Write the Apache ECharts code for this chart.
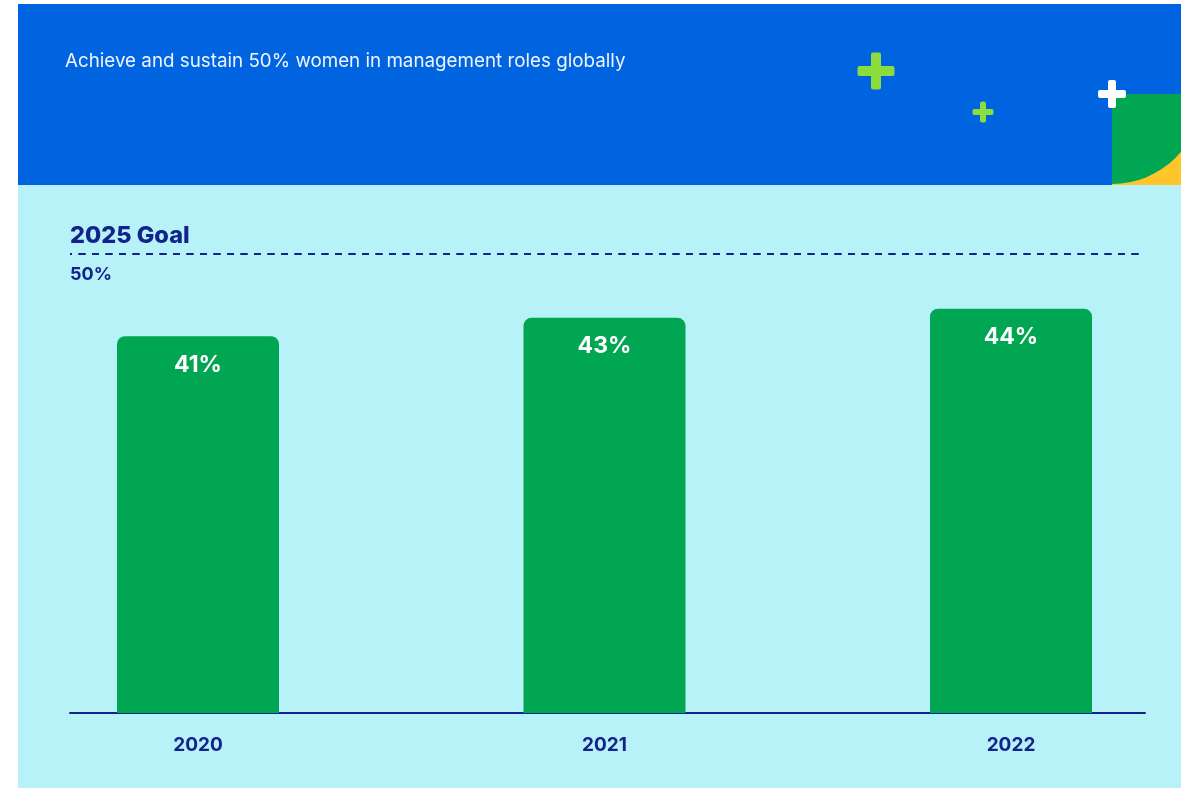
<!DOCTYPE html>
<html>
<head>
<meta charset="utf-8">
<script src="https://cdn.jsdelivr.net/npm/echarts@6/dist/echarts.min.js"></script>
<style>
  html, body { margin: 0; padding: 0; background: #ffffff; }
  #chart { width: 1181px; height: 788px; }
</style>
</head>
<body>
<div id="chart"></div>
<script>
// data
var years = ['2020', '2021', '2022'];
var womenShare = [41, 43, 44];
var goalValue = 50;
var goalTitle = '2025 Goal';
var headline = 'Achieve and sustain 50% women in management roles globally';

var navy = '#13238c';
var barGreen = '#00a651';

var chart = echarts.init(document.getElementById('chart'));

// little plus sign made of two rounded bars
function plus(cx, cy, size, thick, color) {
  return {
    type: 'group',
    z: 5,
    children: [
      { type: 'rect', z: 5, shape: { x: cx - size / 2, y: cy - thick / 2, width: size, height: thick, r: 2 }, style: { fill: color } },
      { type: 'rect', z: 5, shape: { x: cx - thick / 2, y: cy - size / 2, width: thick, height: size, r: 2 }, style: { fill: color } }
    ]
  };
}

var option = {
  animation: false,
  backgroundColor: '#ffffff',
  textStyle: { fontFamily: 'Inter' },
  graphic: [
    // header band + light panel
    { type: 'rect', z: -10, shape: { x: 18, y: 4, width: 1163, height: 181 }, style: { fill: '#0064e1' } },
    { type: 'rect', z: -10, shape: { x: 18, y: 185, width: 1163, height: 603 }, style: { fill: '#b8f2f9' } },
    { type: 'text', z: 5, left: 65, top: 52, style: { text: headline, fill: '#eef4ff', font: '400 18.8px Inter' } },
    // corner ornament
    { type: 'rect', z: 1, shape: { x: 1112, y: 94, width: 69, height: 91 }, style: { fill: '#ffc629' } },
    { type: 'sector', z: 2, shape: { cx: 1112, cy: 94, r: 90, startAngle: 0, endAngle: Math.PI / 2 }, style: { fill: barGreen } },
    plus(876, 71, 37, 10, '#8cdc3c'),
    plus(983, 112, 21, 6, '#8cdc3c'),
    plus(1112, 94, 28, 8, '#ffffff')
  ],
  grid: [
    // bar grid: first and last category on the grid edges (boundaryGap false)
    { left: 198, right: 170, top: 253.5, bottom: 75 },
    // frame grid: baseline and goal line
    { left: 70, right: 36, top: 253.5, bottom: 75 }
  ],
  xAxis: [
    {
      type: 'category', gridIndex: 0, data: years, boundaryGap: false,
      axisLine: { show: false }, axisTick: { show: false },
      axisLabel: { color: navy, fontSize: 19, fontWeight: 'bold', margin: 23 }
    },
    {
      type: 'category', gridIndex: 1, data: years,
      axisLine: { show: true, lineStyle: { color: navy, width: 2 } },
      axisTick: { show: false }, axisLabel: { show: false }
    }
  ],
  yAxis: [
    { type: 'value', gridIndex: 0, min: 0, max: goalValue, show: false, splitLine: { show: false } },
    { type: 'value', gridIndex: 1, min: 0, max: goalValue, show: false, splitLine: { show: false } }
  ],
  series: [
    {
      type: 'bar', xAxisIndex: 0, yAxisIndex: 0,
      data: womenShare,
      barWidth: 162,
      clip: false,
      itemStyle: { color: barGreen, borderRadius: [8, 8, 0, 0] },
      label: {
        show: true, position: 'insideTop', distance: 17,
        color: '#ffffff', fontSize: 23, fontWeight: 'bold',
        formatter: function (p) { return p.value + '%'; }
      },
      silent: true
    },
    {
      type: 'line', xAxisIndex: 1, yAxisIndex: 1,
      data: [],
      silent: true,
      markLine: {
        silent: true, symbol: 'none',
        lineStyle: { color: navy, type: [7, 6.5], dashOffset: 5, width: 2 },
        data: [
          { yAxis: goalValue, label: { show: true, position: 'insideStartTop', distance: [0, 6], formatter: goalTitle, color: navy, fontSize: 23.5, fontWeight: 800 } },
          { yAxis: goalValue, label: { show: true, position: 'insideStartBottom', distance: [0, 12], formatter: goalValue + '%', color: navy, fontSize: 18, fontWeight: 'bold' } }
        ]
      }
    }
  ]
};

chart.setOption(option);
window.addEventListener('resize', function () {
  chart.resize();
});
</script>
</body>
</html>
